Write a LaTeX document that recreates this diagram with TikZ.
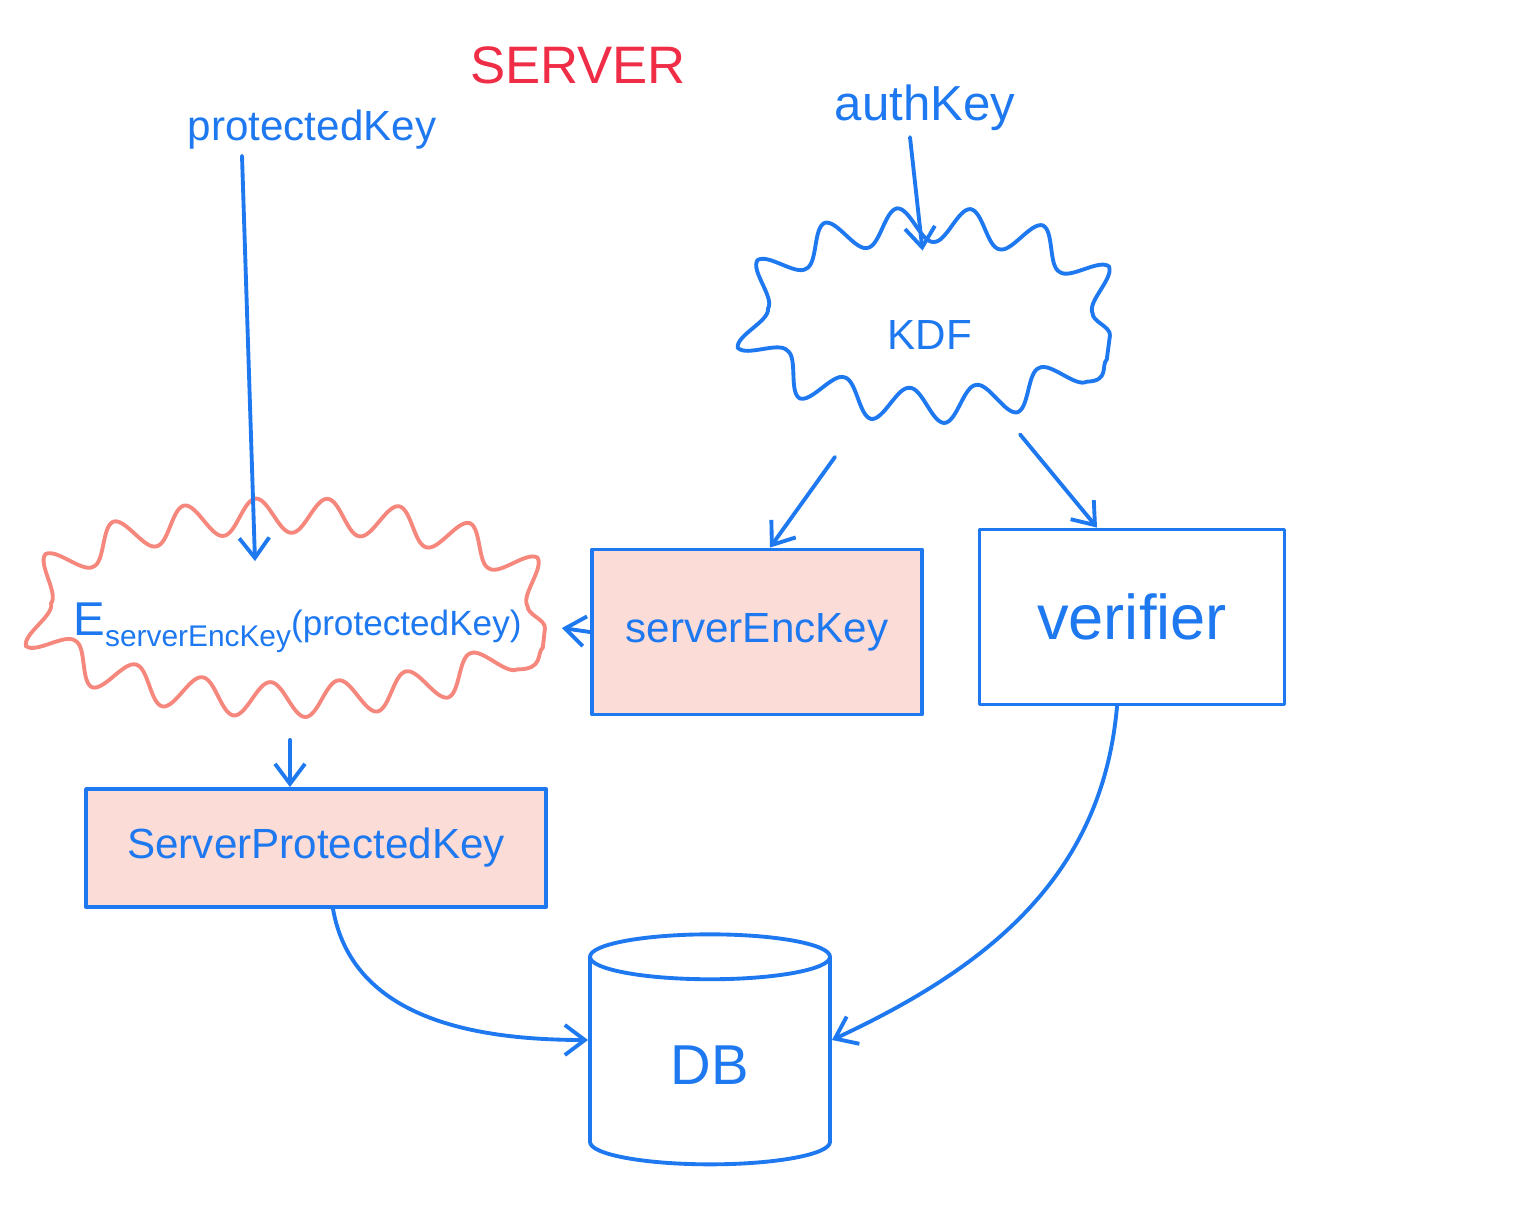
\documentclass[tikz,border=0pt]{standalone}
\usepackage{fontspec}
\setmainfont{Liberation Sans}
\usepackage{tikz}
\usetikzlibrary{shapes,arrows.meta,positioning,calc,decorations.pathmorphing}

\definecolor{penblue}{RGB}{30,120,240}
\definecolor{penred}{RGB}{240,45,70}
\definecolor{cloudred}{RGB}{245,135,125}
\definecolor{keyfill}{RGB}{252,220,214}

\tikzset{
    pen/.style={penblue, line width=2.2pt, line cap=round, line join=round},
    flow/.style={pen, -{Straight Barb[length=4mm,width=6mm]}},
    handtext/.style={text=penblue, font=\fontsize{24}{28}\selectfont},
    keybox/.style={pen, draw, rectangle, fill=keyfill, inner sep=0pt},
    plainbox/.style={pen, draw, rectangle, inner sep=0pt},
    burst/.style={draw, ellipse, inner sep=0pt, line width=2.2pt, decorate,
        decoration={snake, segment length=14mm, amplitude=3.5mm}}
}

\begin{document}
\begin{tikzpicture}
    \useasboundingbox (0,0) rectangle (30.72,-24.2);

    % titles and inputs
    \node [text=penred, font=\fontsize{30}{34}\selectfont] (server) at (11.56,-1.3) {SERVER};
    \node [handtext] (pkey) at (6.24,-2.6) {protectedKey};
    \node [handtext, font=\fontsize{28}{32}\selectfont] (akey) at (18.5,-2.16) {authKey};

    % clouds
    \node [burst, penblue, minimum width=7.2cm, minimum height=3.6cm] (kdf) at (18.6,-6.7) {};
    \node [handtext] (kdftext) at (kdf) {KDF};
    \node [burst, cloudred, minimum width=10.2cm, minimum height=3.6cm] (ecloud) at (5.8,-12.56) {};
    \node [text=penblue] (etext) at ([xshift=0.15cm]ecloud.center)
        {\fontsize{27}{30}\selectfont E\raisebox{-6pt}{\fontsize{17}{20}\selectfont serverEncKey}\fontsize{20}{24}\selectfont(protectedKey)};

    % boxes
    \node [keybox, minimum width=6.6cm, minimum height=3.3cm, font=\fontsize{24}{28}\selectfont] (senc) at (15.14,-12.64) {serverEncKey};
    \node [plainbox, minimum width=6.1cm, minimum height=3.5cm, font=\fontsize{36}{40}\selectfont] (verif) at (22.64,-12.34) {verifier};
    \node [keybox, minimum width=9.2cm, minimum height=2.36cm, font=\fontsize{24}{28}\selectfont] (spk) at (6.32,-16.96) {ServerProtectedKey};
    \node [pen, draw, cylinder, shape border rotate=90, aspect=0.5, minimum width=4.8cm, minimum height=4.6cm,
        font=\fontsize{32}{36}\selectfont] (db) at (14.2,-21.3) {DB};

    % arrows
    \draw [flow] ([xshift=-1.4cm]pkey.south) -- ([xshift=-0.7cm,yshift=-0.5cm]ecloud.north);
    \draw [flow] ([xshift=-0.3cm]akey.south) -- ([xshift=-0.15cm,yshift=-0.15cm]kdf.north);
    \draw [flow] ([xshift=-1.9cm,yshift=-0.6cm]kdf.south) -- ([xshift=0.26cm]senc.north);
    \draw [flow] ([xshift=1.8cm,yshift=-0.15cm]kdf.south) -- ([xshift=-0.7cm]verif.north);
    \draw [flow] (senc.west) -- ([xshift=0.3cm]ecloud.east);
    \draw [flow] ([yshift=-0.4cm]ecloud.south) -- (ecloud.south |- spk.north);
    \draw [flow] ([xshift=0.34cm]spk.south) to[out=-80, in=180] ([yshift=0.5cm]db.west);
    \draw [flow] ([xshift=-0.3cm]verif.south) to[out=-95, in=25] ([yshift=0.5cm]db.east);
\end{tikzpicture}
\end{document}
